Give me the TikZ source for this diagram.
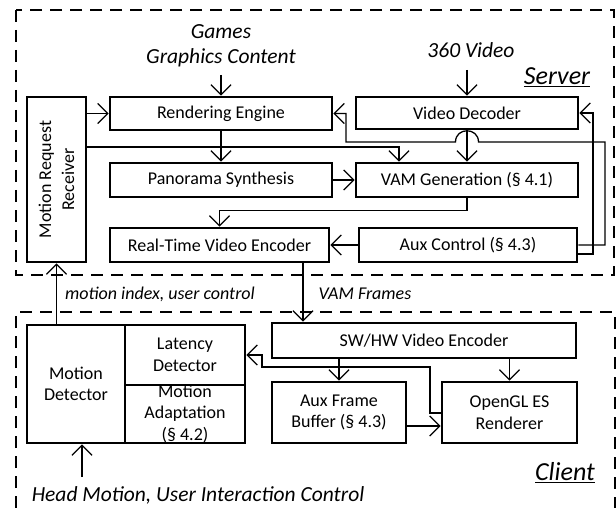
\documentclass[tikz,border=0pt]{standalone}
\usepackage{fontspec}
\setmainfont{Carlito}
\usetikzlibrary{arrows.meta}
\begin{document}
\begin{tikzpicture}[x=1pt,y=-1pt,
 box/.style={draw, line width=2.8pt, inner sep=0pt, align=center, font=\fontsize{18}{21.5}\selectfont},
 txt/.style={inner sep=0pt, align=center, font=\fontsize{18}{23}\selectfont},
 arr/.style={line width=1.3pt, -{Straight Barb[length=10pt,width=20pt]}},
 dsh/.style={line width=1.8pt, dash pattern=on 12pt off 8pt},
 itl/.style={font=\fontsize{21.5}{25}\selectfont\itshape, align=center, inner sep=0pt},
 lbl/.style={font=\fontsize{18}{21.5}\selectfont\itshape, inner sep=0pt},
 big/.style={font=\fontsize{26}{30}\selectfont\itshape, inner sep=0pt}]
\useasboundingbox[fill=white] (0,0) rectangle (616,508);

% dashed regions
\draw[dsh] (16,10) rectangle (614,275);
\draw[dsh] (16,508) -- (16,312) -- (615,312) -- (615,508);

% server boxes
\node[box, minimum width=59pt, minimum height=165pt] (mrr) at (56.5,179.5) {};
\node[txt, rotate=90] (mrrt) at (mrr.center) {Motion Request\\Receiver};
\node[box, minimum width=222pt, minimum height=33pt] (re) at (221,113.5) {Rendering Engine};
\node[box, minimum width=222pt, minimum height=32pt] (vd) at (467,113) {Video Decoder};
\node[box, minimum width=222pt, minimum height=34pt] (ps) at (221,180) {Panorama Synthesis};
\node[box, minimum width=222pt, minimum height=34pt] (vam) at (467,180) {VAM Generation (§ 4.1)};
\node[box, minimum width=219pt, minimum height=34pt] (rtve) at (219.5,245) {Real-Time Video Encoder};
\node[box, minimum width=218pt, minimum height=34pt] (aux) at (468,245) {Aux Control (§ 4.3)};

% client boxes
\node[box, minimum width=304pt, minimum height=35pt] (swhw) at (424,340.5) {SW/HW Video Encoder};
\node[box, minimum width=98pt, minimum height=118pt] (md) at (76,384) {Motion\\Detector};
\node[box, minimum width=120pt, minimum height=60pt] (ld) at (185,355) {Latency\\Detector};
\node[box, minimum width=120pt, minimum height=58pt] (ma) at (185,414) {Motion\\Adaptation\\(§ 4.2)};
\node[box, minimum width=134pt, minimum height=61pt] (afb) at (339,412.5) {Aux Frame\\Buffer (§ 4.3)};
\node[box, minimum width=135pt, minimum height=61pt] (ogl) at (509.5,412.5) {OpenGL ES\\Renderer};

% texts
\node[itl] (games) at (221,45.5) {Games\\Graphics Content};
\node[itl] (vid) at (471,50) {360 Video};
\node[big] (srv) at (557,77) {\underline{Server}};
\node[big] (cli) at (565,473) {\underline{Client}};
\node[lbl] (mic) at (160,294) {motion index, user control};
\node[lbl] (vamf) at (365,294) {VAM Frames};
\node[itl] (hm) at (198,495) {Head Motion, User Interaction Control};
\coordinate (gin) at (221,75);
\coordinate (vin) at (467,70);
\coordinate (hin) at (82,477);

% server connectors
\draw[arr] (gin) -- (re.north);
\draw[arr] (vin) -- (vd.north);
\draw[arr] (mrr.east |- re.west) -- (re.west);
\draw[arr] (mrr.east |- 0,147) -| ([xshift=-68pt]vam.north);
\draw[arr] (re.south) -- (ps.north);
\draw[arr] (vd.south) -- (vam.north);
\draw[arr] (ps.east) -- (vam.west);
\draw[arr] (vam.south) -- ++(0,12) -| (rtve.north);
\draw[arr] (aux.west) -- (rtve.east);
\draw[arr] (aux.east) -- (605,245) -- (605,142) -- (478.5,142)
   .. controls (478.5,127) and (455.5,127) .. (455.5,142) -- (346,142) -- (346,113.5) -- (re.east);
\draw[arr] (aux.east |- 0,254) -- (593,254) -- (593,113) -- (vd.east);

% between
\draw[arr] (rtve.south -| 303,0) -- (swhw.north -| 303,0);
\draw[arr] (md.north -| mrr.south) -- (mrr.south);

% client connectors
\draw[arr] (afb.north |- swhw.south) -- (afb.north);
\draw[arr] (ogl.north |- swhw.south) -- (ogl.north);
\draw[arr] (afb.east |- 0,426) -- (ogl.west |- 0,426);
\draw[arr] (ogl.west |- 0,413) -- (430,413) -- (430,367) -- (262,367) -- (262,355) -- (ld.east);
\draw[arr] (hin) -- (md.south -| hin);
\end{tikzpicture}
\end{document}
